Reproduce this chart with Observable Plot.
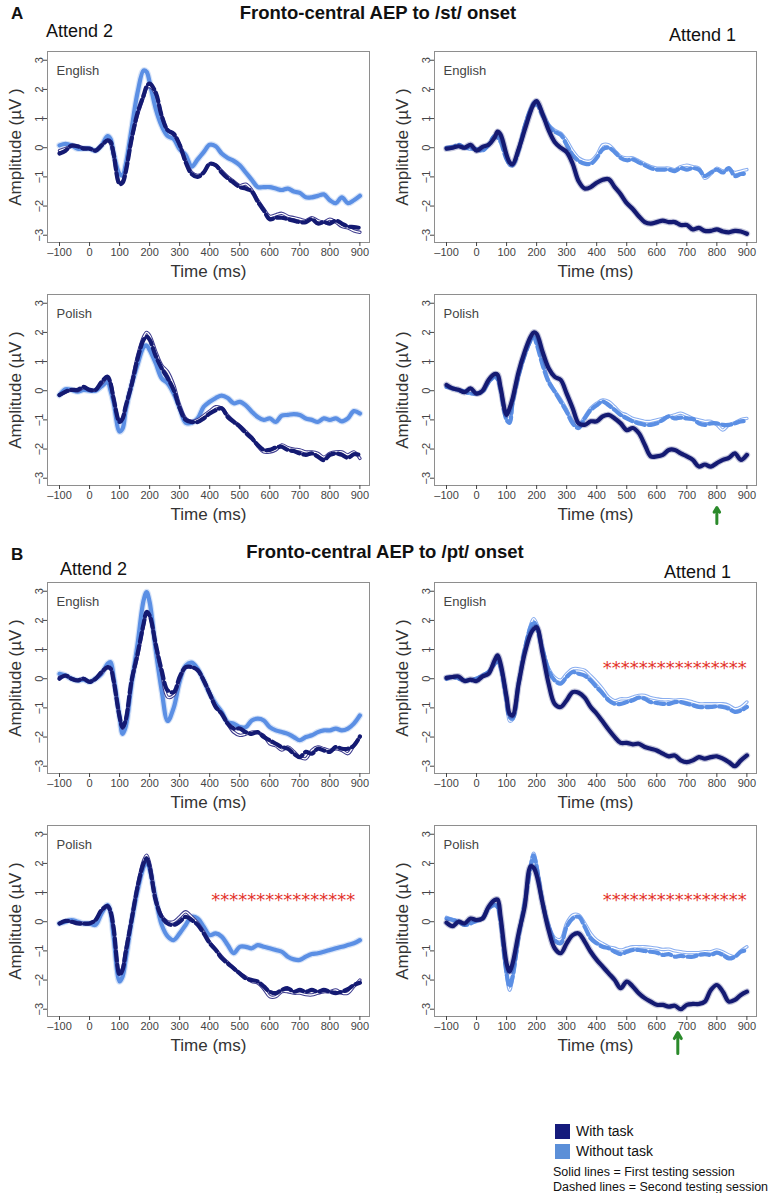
<!DOCTYPE html>
<html><head><meta charset="utf-8">
<script src="https://cdn.jsdelivr.net/npm/d3@7"></script>
<script src="https://cdn.jsdelivr.net/npm/@observablehq/plot@0.6"></script>
<style>
body{margin:0;background:#fff;}
#page{position:relative;width:773px;height:1193px;overflow:hidden;font-family:"Liberation Sans",Arial,Helvetica,sans-serif;color:#111;background:#fff;}
.t{position:absolute;white-space:nowrap;line-height:1;}
.plot{position:absolute;}
.sq{position:absolute;width:15px;height:15px;}
</style></head><body><div id="page"></div>
<script>
// ---------- shared axes ----------
const time = [-100,-80,-60,-40,-20,0,20,40,60,70,80,100,110,120,140,160,180,190,200,220,240,260,280,300,320,340,360,380,400,420,440,460,480,500,520,540,560,580,600,620,640,660,680,700,720,740,760,780,800,820,840,860,880,900];
const xTicks = [-100,0,100,200,300,400,500,600,700,800,900];
const yTicks = [-3,-2,-1,0,1,2,3];

// ---------- A: /st/ onset ----------
// Attend 2, English
const st_att2_eng_without_s1 = [0.08,0.13,0.08,-0.03,-0.03,-0.03,-0.1,0.08,0.4,0.3, -0.2,-0.9,-0.95,-0.6,0.65,1.9,2.65,2.6,2.25,1.35, 0.75,0.4,0.3,-0.05,-0.25,-0.65,-0.4,-0.15,0.1,0.05, -0.2,-0.35,-0.45,-0.6,-0.85,-1.1,-1.35,-1.35,-1.35,-1.4, -1.45,-1.4,-1.5,-1.55,-1.7,-1.7,-1.65,-1.6,-1.8,-1.9, -1.7,-1.9,-1.8,-1.65];
const st_att2_eng_with_s1 = [-0.1,-0.03,0.05,0.05,0.0,-0.03,-0.1,0.08,0.25,0.15, -0.25,-1.2,-1.15,-0.8,0.3,1.15,1.75,2.05,2.1,1.85, 1.1,0.6,0.45,0.1,-0.45,-0.85,-0.95,-0.85,-0.55,-0.6, -0.8,-1.0,-1.15,-1.3,-1.25,-1.45,-1.8,-2.1,-2.35,-2.3, -2.25,-2.35,-2.4,-2.45,-2.5,-2.4,-2.5,-2.55,-2.45,-2.55, -2.7,-2.75,-2.85,-2.9];
const st_att2_eng_with_s2 = [-0.2,-0.1,0.08,0.05,-0.03,-0.03,-0.1,0.08,0.25,0.2, -0.2,-1.25,-1.2,-0.85,0.3,1.2,1.8,2.1,2.2,1.9, 1.1,0.6,0.48,0.1,-0.5,-0.9,-1.0,-0.85,-0.55,-0.6, -0.85,-1.05,-1.2,-1.35,-1.4,-1.5,-1.85,-2.15,-2.45,-2.4, -2.4,-2.45,-2.5,-2.55,-2.55,-2.45,-2.6,-2.55,-2.6,-2.5, -2.6,-2.7,-2.72,-2.75];
// Attend 1, English
const st_att1_eng_with_s1 = [-0.03,0,0.05,0,0.1,-0.1,0.03,0.1,0.35,0.55, 0.45,-0.25,-0.5,-0.57,-0.05,0.6,1.25,1.5,1.6,1.15, 0.6,0.2,0,-0.15,-0.55,-1.15,-1.4,-1.35,-1.2,-1.1, -1.08,-1.35,-1.6,-1.9,-2.1,-2.35,-2.55,-2.6,-2.55,-2.5, -2.55,-2.55,-2.65,-2.65,-2.8,-2.75,-2.85,-2.85,-2.8,-2.87, -2.9,-2.85,-2.87,-2.95];
const st_att1_eng_without_s1 = [-0.05,0,0.05,0,-0.05,-0.05,-0.1,0.1,0.35,0.4, 0.25,-0.35,-0.6,-0.6,-0.05,0.75,1.35,1.55,1.6,1.2, 0.8,0.6,0.5,0.25,-0.1,-0.35,-0.45,-0.45,-0.25,0.1, 0.1,-0.1,-0.3,-0.35,-0.35,-0.45,-0.55,-0.65,-0.7,-0.7, -0.7,-0.75,-0.65,-0.6,-0.65,-0.7,-1.05,-0.9,-0.7,-0.8, -0.75,-0.85,-0.8,-0.75];
const st_att1_eng_without_s2 = [0,0.02,0.1,0,0,-0.05,-0.1,0.1,0.4,0.35, 0.2,-0.4,-0.55,-0.6,-0.1,0.7,1.3,1.45,1.5,1.1, 0.75,0.55,0.45,0.1,-0.25,-0.45,-0.55,-0.55,-0.35,-0.05, 0,-0.15,-0.35,-0.43,-0.4,-0.5,-0.6,-0.7,-0.75,-0.75, -0.75,-0.8,-0.7,-0.75,-0.7,-0.75,-0.97,-0.85,-0.75,-0.85, -0.7,-0.97,-0.9,-0.9];
// Attend 2, Polish
const st_att2_pol_without_s1 = [-0.15,0.05,0.03,-0.03,0.03,0,0,0.15,0.3,0.0, -0.4,-1.4,-1.3,-0.7,0.2,0.9,1.5,1.55,1.4,0.95, 0.43,0.25,-0.1,-0.6,-1.1,-1.1,-0.95,-0.55,-0.38,-0.25, -0.17,-0.25,-0.43,-0.38,-0.5,-0.72,-0.9,-1.0,-0.95,-1.07, -0.85,-0.83,-0.8,-0.83,-0.95,-1.0,-1.07,-0.95,-1.0,-0.95, -1.05,-0.95,-0.7,-0.78];
const st_att2_pol_with_s1 = [-0.15,-0.05,0.03,0.0,0.1,0.03,0.03,0.25,0.45,0.25, -0.25,-1.05,-0.95,-0.55,0.25,1.2,1.85,2.0,1.9,1.35, 0.88,0.65,0.2,-0.5,-0.95,-1.05,-1.0,-0.85,-0.7,-0.55, -0.6,-0.85,-1.05,-1.2,-1.4,-1.6,-1.9,-2.1,-2.1,-2.03, -1.86,-1.95,-2.0,-2.03,-2.1,-2.1,-2.15,-2.28,-2.15,-2.1, -2.1,-2.2,-2.1,-2.32];
const st_att2_pol_with_s2 = [-0.15,-0.03,0.03,0.03,0.13,0.03,0.03,0.3,0.48,0.25, -0.27,-1.07,-0.95,-0.55,0.2,1.1,1.75,1.85,1.75,1.2, 0.77,0.43,0.03,-0.6,-1.0,-1.07,-1.07,-0.95,-0.78,-0.67, -0.6,-0.9,-1.07,-1.23,-1.45,-1.63,-1.86,-2.03,-2.03,-1.95, -1.92,-2.03,-2.07,-2.15,-2.2,-2.15,-2.26,-2.38,-2.2,-2.15, -2.2,-2.3,-2.18,-2.2];
// Attend 1, Polish
const st_att1_pol_with_s1 = [0.2,0.08,0.03,-0.05,0.08,-0.1,0,0.37,0.57,0.55, 0.1,-0.83,-0.6,-0.27,0.65,1.33,1.85,2.0,1.95,1.33, 0.77,0.48,0.37,-0.1,-0.6,-1.12,-1.17,-1.05,-1.05,-0.88, -0.83,-0.95,-1.12,-1.35,-1.28,-1.45,-1.85,-2.25,-2.25,-2.2, -2.03,-2.03,-2.15,-2.25,-2.37,-2.6,-2.53,-2.6,-2.48,-2.37, -2.3,-2.15,-2.37,-2.2];
const st_att1_pol_without_s1 = [0.15,0.08,0.0,-0.05,-0.1,-0.1,-0.03,0.28,0.45,0.4, 0.05,-1.0,-1.1,-0.45,0.5,1.2,1.7,1.85,1.65,0.95, 0.35,0.0,-0.3,-0.65,-1.05,-1.17,-0.9,-0.6,-0.43,-0.32, -0.37,-0.55,-0.75,-0.83,-0.95,-1.0,-1.05,-1.05,-1.0,-0.95, -0.88,-0.83,-0.77,-0.85,-0.95,-1.0,-1.05,-1.05,-1.17,-1.35, -1.17,-1.1,-0.99,-0.95];
const st_att1_pol_without_s2 = [0.13,0.08,0.03,-0.03,-0.09,-0.09,-0.03,0.3,0.48,0.4, 0.03,-1.0,-1.1,-0.4,0.53,1.22,1.73,1.85,1.6,0.88, 0.3,-0.03,-0.37,-0.72,-1.12,-1.28,-0.95,-0.66,-0.5,-0.37, -0.5,-0.66,-0.83,-0.95,-1.05,-1.12,-1.17,-1.17,-1.12,-1.0, -0.88,-0.95,-0.92,-0.95,-0.97,-1.12,-1.17,-1.12,-1.12,-1.17, -1.17,-1.12,-1.05,-1.05];

// ---------- B: /pt/ onset ----------
// Attend 2, English
const pt_att2_eng_without_s1 = [0.17,0.11,0,-0.06,-0.03,-0.11,0,0.17,0.51,0.57, 0.06,-1.31,-1.89,-1.66,-0.17,1.2,2.69,2.97,2.63,1.0, -0.4,-1.45,-1.0,-0.1,0.45,0.55,0.34,-0.06,-0.51,-0.86, -1.14,-1.49,-1.54,-1.66,-1.66,-1.43,-1.37,-1.43,-1.66,-1.77, -1.83,-1.89,-2.0,-2.11,-2.0,-1.94,-1.83,-1.77,-1.77,-1.71, -1.77,-1.71,-1.54,-1.26];
const pt_att2_eng_with_s1 = [0.05,0.1,0,-0.05,0,-0.1,0,0.2,0.38,0.35, -0.05,-1.3,-1.7,-1.45,-0.1,0.8,1.85,2.25,2.15,1.15, 0.2,-0.63,-0.57,0.0,0.38,0.4,0.3,-0.05,-0.5,-0.95, -1.2,-1.55,-1.83,-1.94,-1.9,-1.83,-1.85,-1.95,-2.23,-2.3, -2.45,-2.34,-2.5,-2.69,-2.74,-2.45,-2.34,-2.4,-2.46,-2.4, -2.46,-2.57,-2.29,-2.0];
const pt_att2_eng_with_s2 = [0,0.11,0,-0.06,0,-0.11,0,0.23,0.4,0.35, -0.06,-1.31,-1.66,-1.43,-0.06,0.86,1.89,2.29,2.17,1.2, 0.29,-0.4,-0.46,0.06,0.4,0.4,0.29,-0.06,-0.51,-0.97, -1.2,-1.54,-1.71,-1.71,-1.83,-1.89,-1.83,-2.0,-2.11,-2.23, -2.34,-2.4,-2.57,-2.69,-2.51,-2.57,-2.4,-2.46,-2.51,-2.34, -2.4,-2.4,-2.29,-1.98];
// Attend 1, English
const pt_att1_eng_with_s1 = [0.03,0.06,0.08,-0.08,-0.03,-0.08,0.08,0.17,0.63,0.8, 0.51,-0.63,-1.2,-1.26,-0.17,0.86,1.54,1.7,1.77,0.86, -0.17,-0.86,-0.97,-0.74,-0.46,-0.48,-0.65,-0.97,-1.2,-1.47, -1.75,-2.0,-2.2,-2.2,-2.25,-2.23,-2.34,-2.4,-2.46,-2.57, -2.66,-2.63,-2.8,-2.86,-2.8,-2.69,-2.74,-2.69,-2.66,-2.74, -2.86,-3.0,-2.8,-2.63];
const pt_att1_eng_without_s1 = [0.05,0.06,0.0,-0.05,-0.05,0.02,0.12,0.25,0.55,0.65, 0.4,-0.8,-1.45,-1.4,-0.2,1.0,1.85,2.06,1.9,1.05, 0.35,0.05,-0.05,0.17,0.34,0.34,0.29,0.1,-0.11,-0.35, -0.63,-0.75,-0.69,-0.69,-0.63,-0.57,-0.57,-0.65,-0.69,-0.72, -0.72,-0.74,-0.72,-0.74,-0.8,-0.86,-0.86,-0.86,-0.86,-0.86, -0.91,-1.03,-0.97,-0.8];
const pt_att1_eng_without_s2 = [0,0.06,0,-0.06,-0.06,0,0.11,0.23,0.51,0.6, 0.4,-0.74,-1.31,-1.37,-0.17,0.97,1.77,1.94,1.77,0.97, 0.29,-0.06,-0.17,0.06,0.23,0.17,0.11,-0.06,-0.29,-0.51, -0.74,-0.86,-0.86,-0.8,-0.74,-0.65,-0.69,-0.8,-0.83,-0.86, -0.86,-0.8,-0.8,-0.86,-0.91,-0.97,-0.97,-0.97,-0.95,-0.97, -1.03,-1.14,-1.09,-0.97];
// Attend 2, Polish
const pt_att2_pol_without_s1 = [-0.06,0,0.06,0,-0.06,-0.06,-0.11,0.29,0.57,0.3, -0.5,-2.05,-1.88,-1.31,0,1.08,1.88,2.05,1.8,0.8, -0.1,-0.5,-0.63,-0.4,-0.11,0.17,0.11,-0.17,-0.46,-0.4, -0.51,-0.8,-1.08,-0.86,-0.86,-0.91,-0.8,-0.86,-0.91,-0.97, -1.03,-1.2,-1.29,-1.31,-1.2,-1.11,-1.08,-1.03,-0.97,-0.91, -0.86,-0.8,-0.74,-0.63];
const pt_att2_pol_with_s1 = [-0.06,0.03,0.0,-0.03,-0.06,-0.06,0.06,0.38,0.52,0.3, -0.25,-1.8,-1.6,-1.0,0.1,1.25,2.1,2.28,2.0,0.8, 0.2,0.0,0.0,0.17,0.34,0.17,-0.05,-0.35,-0.7,-0.95, -1.2,-1.4,-1.6,-1.77,-1.9,-2.05,-2.1,-2.3,-2.57,-2.57, -2.4,-2.4,-2.45,-2.45,-2.5,-2.51,-2.45,-2.4,-2.4,-2.34, -2.45,-2.45,-2.22,-2.0];
const pt_att2_pol_with_s2 = [-0.06,0.03,0,-0.06,-0.06,-0.06,0.06,0.4,0.54,0.35, -0.2,-1.82,-1.65,-1.08,0.06,1.2,2.0,2.17,1.88,0.74, 0.17,-0.06,-0.11,0,0.17,0.06,-0.11,-0.4,-0.74,-0.97, -1.25,-1.43,-1.6,-1.77,-1.94,-2.0,-2.05,-2.22,-2.4,-2.45, -2.34,-2.28,-2.4,-2.34,-2.4,-2.34,-2.4,-2.34,-2.4,-2.45, -2.4,-2.31,-2.17,-2.09];
// Attend 1, Polish
const pt_att1_pol_with_s1 = [-0.03,-0.15,0,-0.06,0.11,0.06,0.11,0.51,0.74,0.76, 0.17,-1.43,-1.71,-1.43,-0.4,0.51,1.9,1.85,1.6,0.63, -0.29,-0.91,-1.08,-0.74,-0.46,-0.4,-0.68,-1.03,-1.31,-1.54, -1.77,-2.0,-2.28,-2.05,-2.22,-2.45,-2.62,-2.74,-2.85,-2.85, -2.91,-2.88,-3.0,-2.85,-2.82,-2.82,-2.74,-2.34,-2.17,-2.4, -2.74,-2.68,-2.51,-2.4];
const pt_att1_pol_without_s1 = [0.15,0.08,0.03,-0.08,-0.03,0.05,0.13,0.48,0.6,0.5, 0,-1.85,-2.35,-1.95,-0.55,0.65,1.95,2.35,1.95,0.7, -0.1,-0.55,-0.6,-0.05,0.23,0.23,-0.05,-0.4,-0.63,-0.75, -0.86,-0.91,-0.97,-0.91,-0.86,-0.86,-0.86,-0.88,-0.91,-0.95, -0.94,-1.0,-1.03,-1.06,-1.06,-1.06,-1.03,-1.03,-0.97,-1.03, -1.14,-1.2,-1.0,-0.86];
const pt_att1_pol_without_s2 = [0.11,0.06,0,-0.11,-0.06,0.03,0.11,0.46,0.57,0.5, 0,-1.77,-2.22,-1.88,-0.51,0.63,1.88,2.28,1.88,0.63, -0.17,-0.63,-0.74,-0.17,0.11,0.17,-0.17,-0.57,-0.74,-0.86, -0.91,-1.03,-1.11,-1.03,-0.97,-0.97,-1.0,-1.03,-1.06,-1.14, -1.11,-1.2,-1.17,-1.2,-1.2,-1.14,-1.11,-1.14,-1.06,-1.14, -1.26,-1.2,-1.03,-0.97];

// significance stars and arrows (panel index, onset time, level)
const sigStars = [
  {panel: 5, start: 420, level: 0.5, n: 16},
  {panel: 6, start: 405, level: 0.88, n: 16},
  {panel: 7, start: 420, level: 0.88, n: 16}
];
const arrowMarks = [
  {panel: 3, t: 800, head: 22, tail: 38},
  {panel: 7, t: 670, head: 16, tail: 37}
];

// ---------- layout / style ----------
const FONT = '"Liberation Sans", Arial, Helvetica, sans-serif';
const COLORS = {with: "#141a72", without: "#5b8fe4", withHollow: "#3f3d8f", withoutHollow: "#8aaeef"};
const W = 385, MT = 10, MB = 45, ML = 47, MR = 16, FH = 191;
const H = MT + FH + MB;
const xDom = [-140, 932], yDom = [-3.25, 3.3];
const pxPerUnit = FH / (yDom[1] - yDom[0]);
const colLeft = [0, 387];
const rowFrameTop = [51, 294, 582, 825];

const panels = [
  {col: 0, row: 0, lang: "English", lines: [
    {cond: "without", style: "thick", values: st_att2_eng_without_s1},
    {cond: "with", style: "hollow", values: st_att2_eng_with_s1},
    {cond: "with", style: "dashed", values: st_att2_eng_with_s2}]},
  {col: 1, row: 0, lang: "English", lines: [
    {cond: "without", style: "hollow", values: st_att1_eng_without_s1},
    {cond: "without", style: "dashed", values: st_att1_eng_without_s2},
    {cond: "with", style: "thick", values: st_att1_eng_with_s1}]},
  {col: 0, row: 1, lang: "Polish", lines: [
    {cond: "without", style: "thick", values: st_att2_pol_without_s1},
    {cond: "with", style: "hollow", values: st_att2_pol_with_s1},
    {cond: "with", style: "dashed", values: st_att2_pol_with_s2}]},
  {col: 1, row: 1, lang: "Polish", lines: [
    {cond: "without", style: "hollow", values: st_att1_pol_without_s1},
    {cond: "without", style: "dashed", values: st_att1_pol_without_s2},
    {cond: "with", style: "thick", values: st_att1_pol_with_s1}]},
  {col: 0, row: 2, lang: "English", lines: [
    {cond: "without", style: "thick", values: pt_att2_eng_without_s1},
    {cond: "with", style: "hollow", values: pt_att2_eng_with_s1},
    {cond: "with", style: "dashed", values: pt_att2_eng_with_s2}]},
  {col: 1, row: 2, lang: "English", lines: [
    {cond: "without", style: "hollow", values: pt_att1_eng_without_s1},
    {cond: "without", style: "dashed", values: pt_att1_eng_without_s2},
    {cond: "with", style: "thick", values: pt_att1_eng_with_s1}]},
  {col: 0, row: 3, lang: "Polish", lines: [
    {cond: "without", style: "thick", values: pt_att2_pol_without_s1},
    {cond: "with", style: "hollow", values: pt_att2_pol_with_s1},
    {cond: "with", style: "dashed", values: pt_att2_pol_with_s2}]},
  {col: 1, row: 3, lang: "Polish", lines: [
    {cond: "without", style: "hollow", values: pt_att1_pol_without_s1},
    {cond: "without", style: "dashed", values: pt_att1_pol_without_s2},
    {cond: "with", style: "thick", values: pt_att1_pol_with_s1}]}
];

function lineMarks(line) {
  const data = time.map((t, i) => ({t, v: line.values[i]}));
  const c = COLORS[line.cond];
  const base = {x: "t", y: "v", curve: "catmull-rom", strokeLinejoin: "round"};
  if (line.style === "thick") return [
    Plot.line(data, {...base, stroke: c, strokeWidth: 6.5, strokeOpacity: 0.25}),
    Plot.line(data, {...base, stroke: c, strokeWidth: 4.2, strokeLinecap: "round"})
  ];
  if (line.style === "dashed") return [
    Plot.line(data, {...base, stroke: c, strokeWidth: 4.2, strokeDasharray: "9,4"})
  ];
  const outer = line.cond === "with" ? COLORS.withHollow : COLORS.withoutHollow;
  return [
    Plot.line(data, {...base, stroke: outer, strokeWidth: 3.4}),
    Plot.line(data, {...base, stroke: "#ffffff", strokeWidth: 1.3})
  ];
}

const fmt = d => d < 0 ? "\u2013" + Math.abs(d) : String(d);
const page = document.getElementById("page");

panels.forEach((p, idx) => {
  const marks = [];
  p.lines.forEach(l => marks.push(...lineMarks(l)));
  marks.push(Plot.frame({stroke: "#8e8e8e", strokeWidth: 1}));
  marks.push(Plot.axisX(xTicks, {tickSize: 4, tickPadding: 2, fontSize: 11, tickFormat: fmt, label: null, color: "#444"}));
  marks.push(Plot.axisY(yTicks, {tickRotate: -90, tickSize: 4, tickPadding: 1, fontSize: 11, label: null, color: "#444"}));
  marks.push(Plot.text([p.lang], {text: d => d, frameAnchor: "top-left", dx: 9, dy: 19, textAnchor: "start", lineAnchor: "middle", fontSize: 13, fill: "#444"}));
  marks.push(Plot.text(["Amplitude (\u00b5V )"], {text: d => d, frameAnchor: "left", dx: -32, rotate: -90, textAnchor: "middle", lineAnchor: "middle", fontSize: 17, fill: "#333"}));
  marks.push(Plot.text(["Time (ms)"], {text: d => d, frameAnchor: "bottom", dy: 29, textAnchor: "middle", lineAnchor: "middle", fontSize: 17, fill: "#333"}));
  sigStars.filter(s => s.panel === idx).forEach(s => {
    marks.push(Plot.text([s], {x: "start", y: "level", text: d => "*".repeat(d.n), textAnchor: "start", fontSize: 18, fontFamily: "DejaVu Sans", fill: "#e3342b", dy: 4}));
  });
  arrowMarks.filter(a => a.panel === idx).forEach(a => {
    marks.push(Plot.arrow([a], {x1: "t", x2: "t", y1: d => yDom[0] - d.tail / pxPerUnit, y2: d => yDom[0] - d.head / pxPerUnit, stroke: "#2b8a2b", strokeWidth: 3, headLength: 9}));
  });
  const svg = Plot.plot({
    width: W, height: H, marginTop: MT, marginBottom: MB, marginLeft: ML, marginRight: MR,
    x: {domain: xDom}, y: {domain: yDom},
    style: {fontFamily: FONT, background: "transparent", overflow: "visible", color: "#444"},
    marks
  });
  svg.classList.add("plot");
  svg.style.left = colLeft[p.col] + "px";
  svg.style.top = (rowFrameTop[p.row] - MT) + "px";
  page.appendChild(svg);
});

// ---------- headings ----------
const headings = [
  {text: "A", x: 11, y: 13, size: 17, bold: true},
  {text: "Fronto-central AEP to /st/ onset", cx: 378, y: 13, size: 18.5, bold: true},
  {text: "Attend 2", x: 46, y: 31, size: 18},
  {text: "Attend 1", x: 669, y: 35, size: 18},
  {text: "B", x: 11, y: 554, size: 17, bold: true},
  {text: "Fronto-central AEP to /pt/ onset", cx: 385, y: 552, size: 18.5, bold: true},
  {text: "Attend 2", x: 60, y: 569, size: 18},
  {text: "Attend 1", x: 664, y: 572, size: 18}
];
headings.forEach(h => {
  const el = document.createElement("div");
  el.className = "t";
  el.textContent = h.text;
  el.style.fontSize = h.size + "px";
  el.style.fontWeight = h.bold ? "bold" : "normal";
  el.style.top = (h.y - h.size / 2) + "px";
  if (h.cx != null) { el.style.left = "0px"; el.style.width = (2 * h.cx) + "px"; el.style.textAlign = "center"; }
  else el.style.left = h.x + "px";
  page.appendChild(el);
});

// ---------- legend ----------
const legendItems = [
  {label: "With task", color: "#151b7c", y: 1131},
  {label: "Without task", color: "#5b8fd8", y: 1151}
];
const legendNotes = [
  {text: "Solid lines = First testing session", y: 1172},
  {text: "Dashed lines = Second testing session", y: 1187}
];
legendItems.forEach(it => {
  const sq = document.createElement("div");
  sq.className = "sq"; sq.style.background = it.color;
  sq.style.left = "555px"; sq.style.top = (it.y - 7.5) + "px";
  page.appendChild(sq);
  const el = document.createElement("div");
  el.className = "t"; el.textContent = it.label;
  el.style.fontSize = "14px"; el.style.left = "576px"; el.style.top = (it.y - 7) + "px";
  page.appendChild(el);
});
legendNotes.forEach(n => {
  const el = document.createElement("div");
  el.className = "t"; el.textContent = n.text;
  el.style.fontSize = "12.5px"; el.style.left = "553px"; el.style.top = (n.y - 6.25) + "px";
  page.appendChild(el);
});
</script></body></html>
